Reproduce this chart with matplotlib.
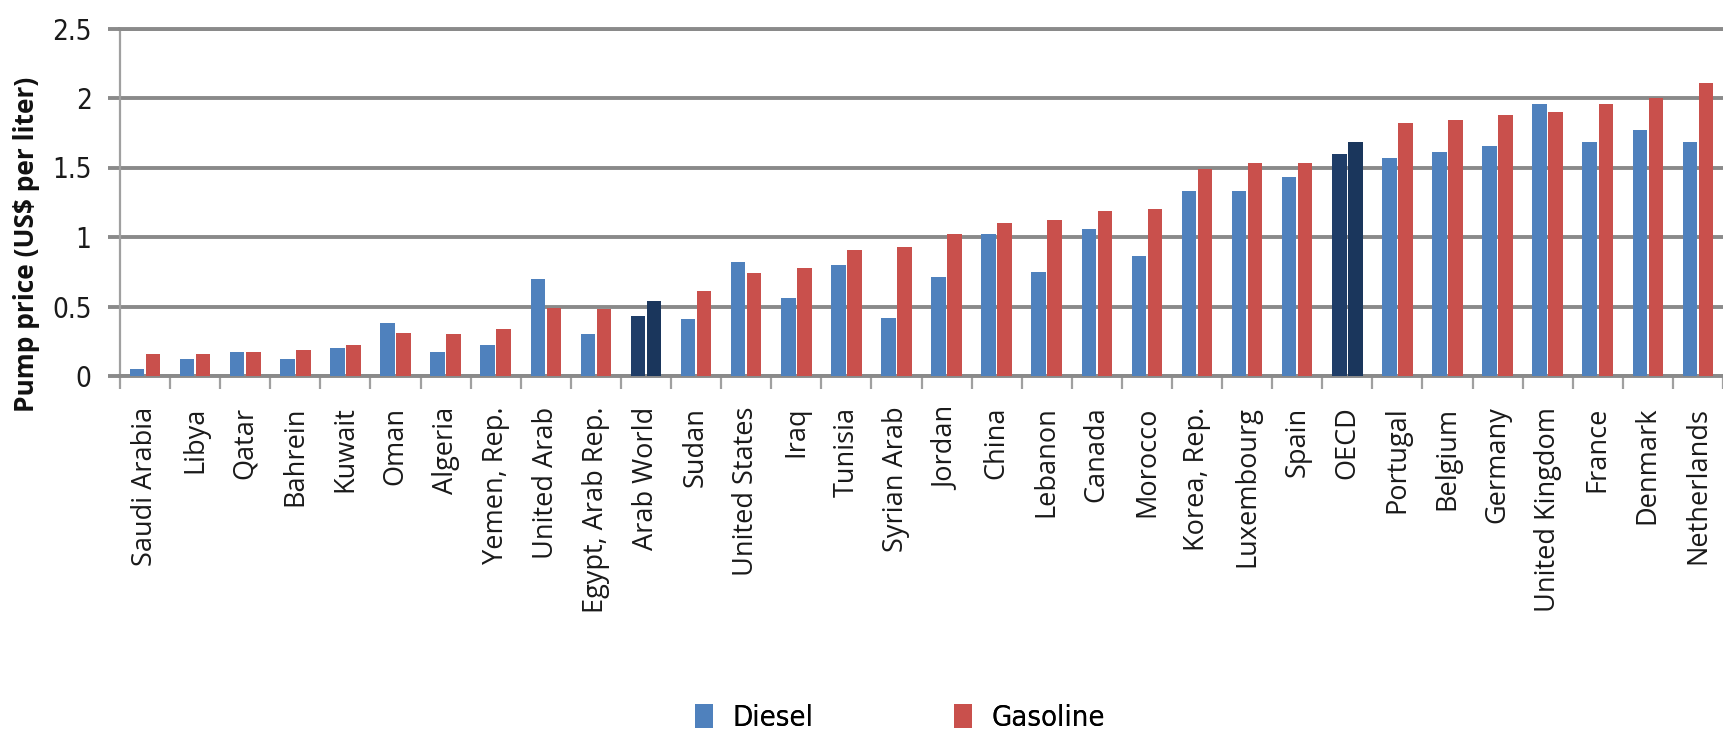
import numpy as np
import matplotlib
matplotlib.use("Agg")
import matplotlib.pyplot as plt
from matplotlib import font_manager as fm
from matplotlib.patches import Patch

countries = ["Saudi Arabia", "Libya", "Qatar", "Bahrein", "Kuwait", "Oman", "Algeria",
             "Yemen, Rep.", "United Arab", "Egypt, Arab Rep.", "Arab World", "Sudan",
             "United States", "Iraq", "Tunisia", "Syrian Arab", "Jordan", "China",
             "Lebanon", "Canada", "Morocco", "Korea, Rep.", "Luxembourg", "Spain", "OECD",
             "Portugal", "Belgium", "Germany", "United Kingdom", "France", "Denmark",
             "Netherlands"]
diesel = [0.05, 0.12, 0.175, 0.125, 0.20, 0.38, 0.175, 0.22, 0.70, 0.30, 0.43, 0.41,
          0.82, 0.56, 0.80, 0.42, 0.715, 1.02, 0.75, 1.06, 0.86, 1.33, 1.33, 1.43, 1.60,
          1.565, 1.61, 1.655, 1.96, 1.685, 1.77, 1.685]
gasoline = [0.16, 0.16, 0.175, 0.19, 0.22, 0.31, 0.30, 0.335, 0.49, 0.48, 0.54, 0.61,
            0.74, 0.775, 0.905, 0.93, 1.02, 1.10, 1.12, 1.19, 1.205, 1.49, 1.535, 1.53,
            1.685, 1.82, 1.84, 1.88, 1.90, 1.96, 2.00, 2.11]
highlight = ["Arab World", "OECD"]
yticks = [0, 0.5, 1, 1.5, 2, 2.5]
yticklabels = ["0", "0.5", "1", "1.5", "2", "2.5"]
series_names = ["Diesel", "Gasoline"]

# look for a condensed / narrow face
narrow_fp = None
for f in fm.fontManager.ttflist:
    if f.name == "Liberation Sans Narrow" and f.style == "normal" and f.weight in (400, "normal", "regular"):
        narrow_fp = fm.FontProperties(fname=f.fname)
        break
if narrow_fp is None:
    for f in fm.fontManager.ttflist:
        if f.name == "DejaVu Sans" and "ondensed" in str(f.stretch) and f.style == "normal" \
                and f.weight in (400, "normal", "regular") and "Condensed" in f.fname:
            narrow_fp = fm.FontProperties(fname=f.fname)
            break
if narrow_fp is None:
    narrow_fp = fm.FontProperties(family="Roboto")

installed = {f.name for f in fm.fontManager.ttflist}
sans = "Open Sans" if "Open Sans" in installed else "DejaVu Sans"

c_diesel = "#4f81bd"
c_gas = "#c9504c"
c_hd = "#1f3d68"
c_hg = "#1a365c"
grid_c = "#8a8a8a"

W, H = 1723, 733
fig = plt.figure(figsize=(W / 100, H / 100), dpi=100)
left_px, right_px, top_px, bot_px = 120, 1723, 28.5, 376
ax = fig.add_axes([left_px / W, 1 - bot_px / H, (right_px - left_px) / W, (bot_px - top_px) / H])

n = len(countries)
x = np.arange(n)
bw = 0.29
off = 0.16
dcol = [c_hd if c in highlight else c_diesel for c in countries]
gcol = [c_hg if c in highlight else c_gas for c in countries]
ax.bar(x - off, diesel, bw, color=dcol, zorder=3)
ax.bar(x + off, gasoline, bw, color=gcol, zorder=3)

cat_px = 50.3
ax.set_xlim(-0.5, -0.5 + (right_px - left_px) / cat_px)
ax.set_ylim(0, 2.5)

ax.set_yticks(yticks)
ax.set_yticklabels(yticklabels, color="#1a1a1a")
for t in ax.get_yticklabels():
    t.set_fontproperties(narrow_fp)
    t.set_fontsize(20)
ax.yaxis.grid(True, color=grid_c, linewidth=2.8, zorder=0)
ax.tick_params(axis="y", length=8.5, width=2.8, color=grid_c, pad=12)

ax.set_xticks(np.arange(-0.5, n, 1.0))
ax.set_xticklabels([])
ax.set_xticks(x, minor=True)
ax.set_xticklabels(countries, minor=True, rotation=90, fontfamily=sans, fontsize=19.5,
                   color="#1a1a1a", va="top", ha="center")
ax.tick_params(axis="x", which="major", length=9, width=1.6, color="#a0a0a0")
ax.tick_params(axis="x", which="minor", length=0, pad=22)

ax.spines["right"].set_visible(False)
for s in ["top", "bottom"]:
    ax.spines[s].set_color(grid_c)
    ax.spines[s].set_linewidth(2.8)
ax.spines["left"].set_color("#a0a0a0")
ax.spines["left"].set_linewidth(1.6)

fig.text(27 / W, 1 - 244 / H, "Pump price (US$ per liter)", rotation=90, ha="center",
         va="center", fontfamily=sans, fontweight="bold", fontsize=19, color="#111111")

leg_fp = narrow_fp.copy()
leg_fp.set_size(21)
for name, col, xpx in zip(series_names, [c_diesel, c_gas], [695, 954]):
    lg = fig.legend(handles=[Patch(facecolor=col, label=name)], loc="center left",
                    bbox_to_anchor=(xpx / W, 1 - 718 / H), frameon=False, prop=leg_fp,
                    handlelength=0.62, handleheight=0.9, handletextpad=0.65,
                    borderpad=0, borderaxespad=0)
    fig.add_artist(lg)

fig.savefig("out.png", dpi=100, facecolor="white")
